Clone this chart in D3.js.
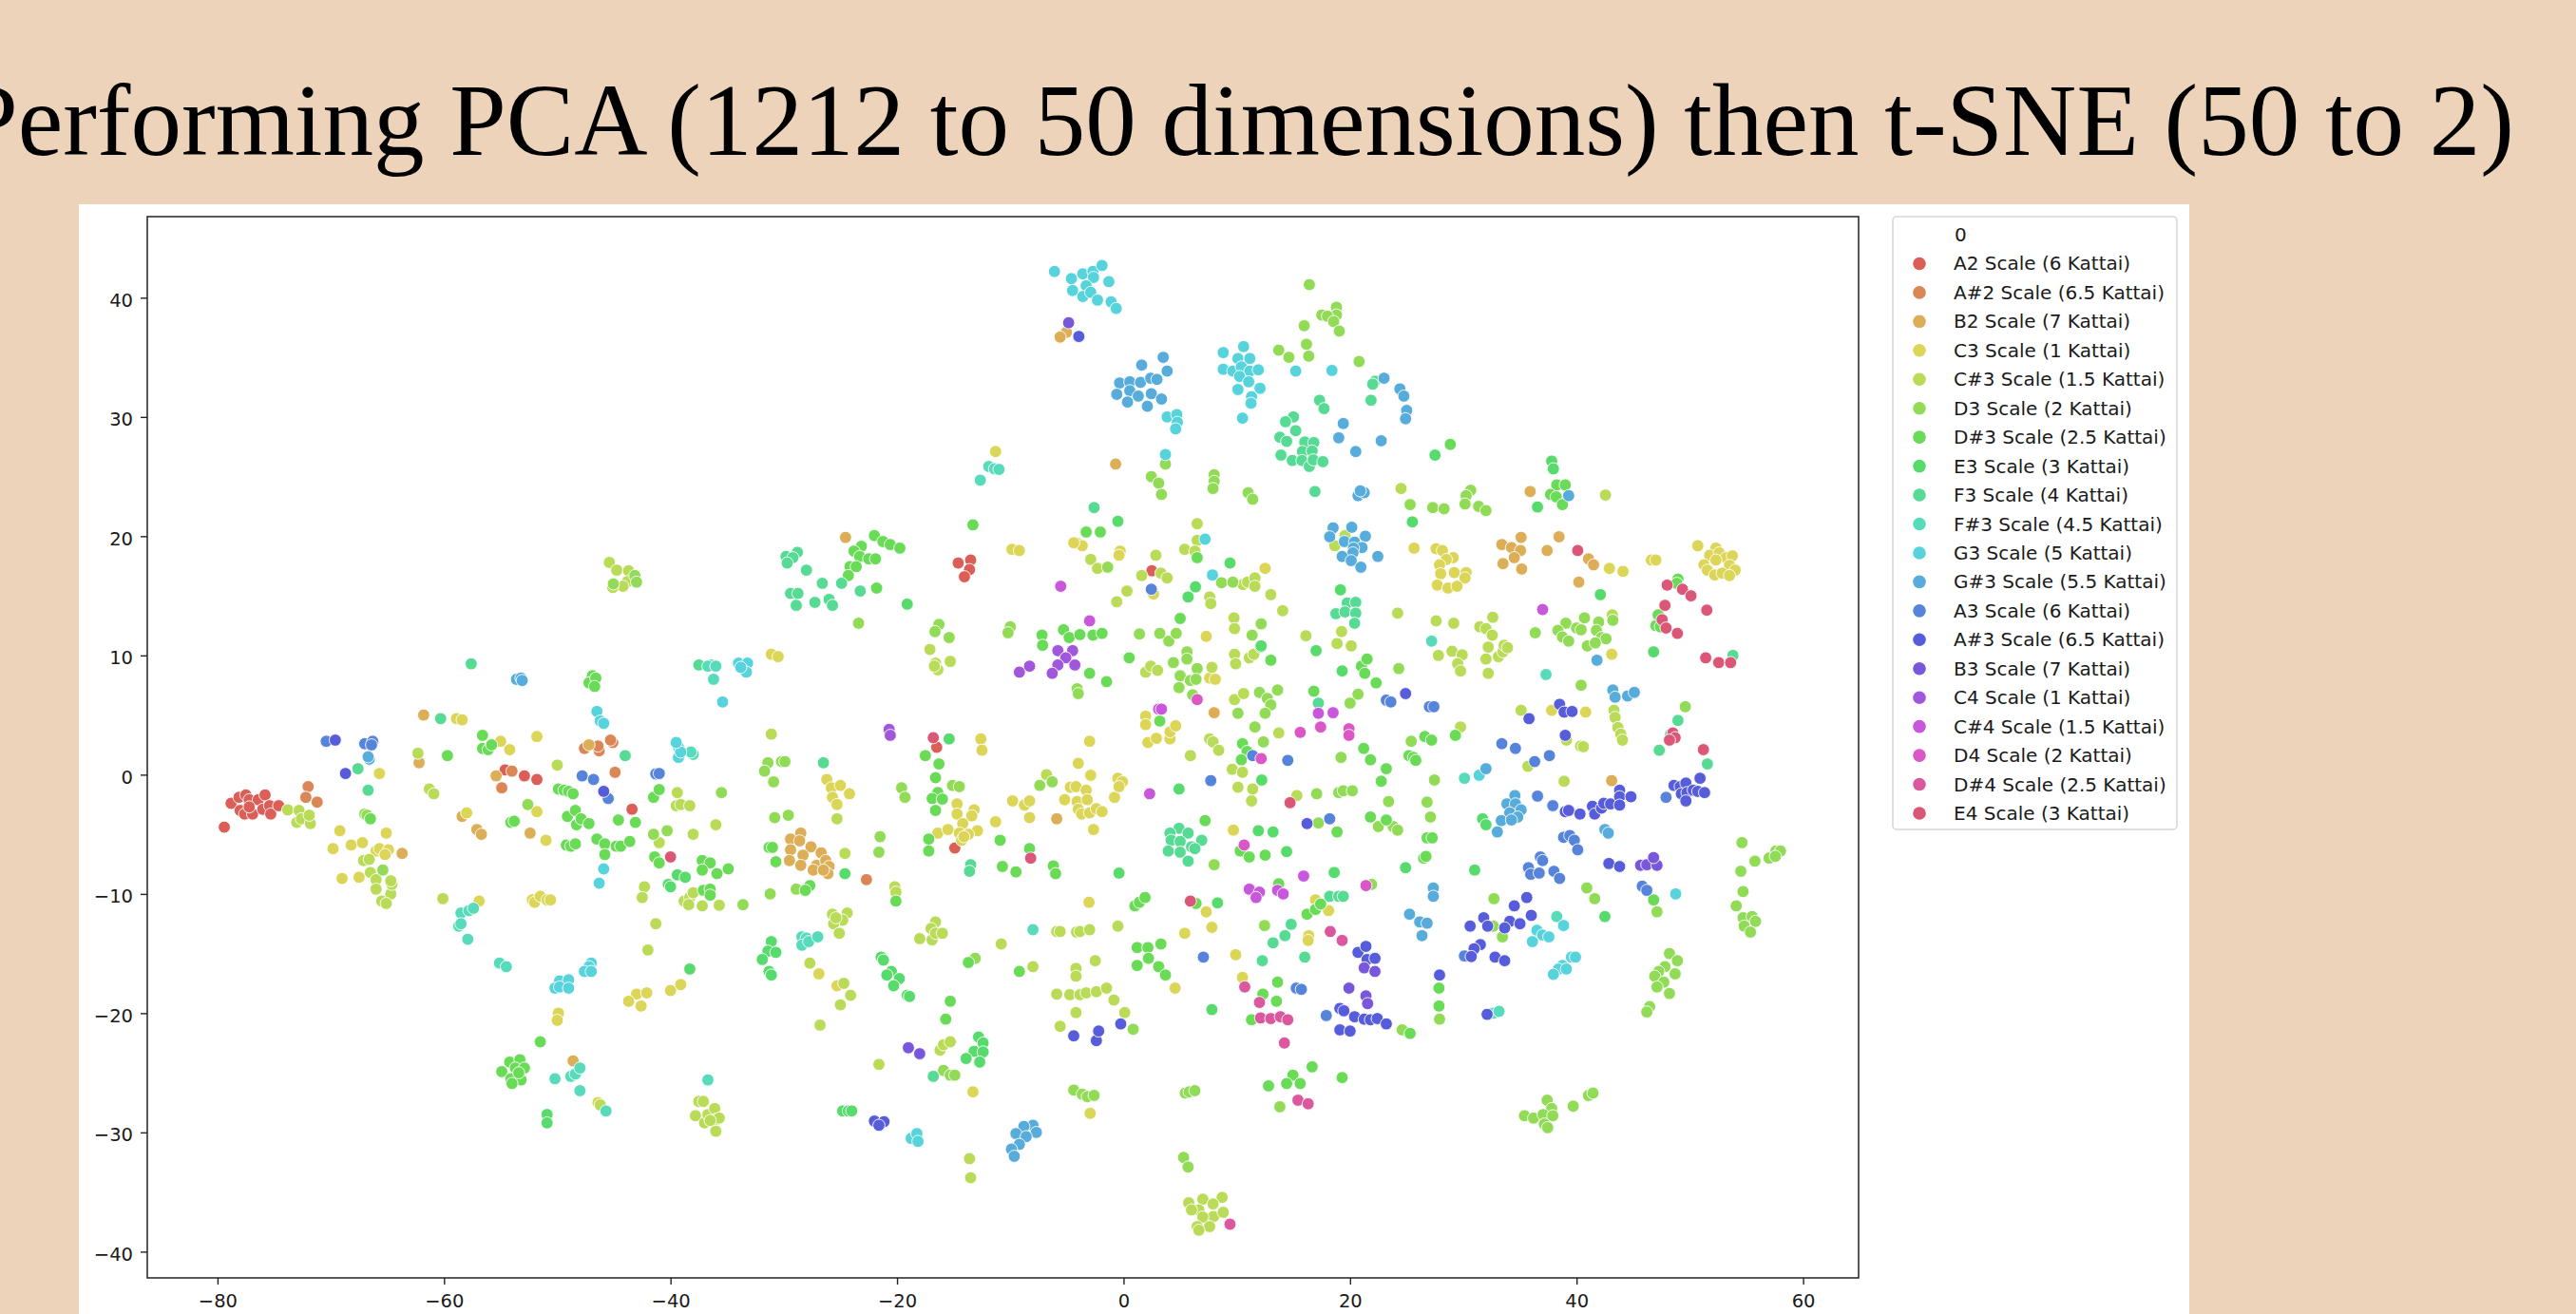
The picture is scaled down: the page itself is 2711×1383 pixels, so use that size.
<!DOCTYPE html>
<html>
<head>
<meta charset="utf-8">
<script src="https://cdn.jsdelivr.net/npm/d3@7"></script>
<style>
  html, body { margin: 0; padding: 0; background: #ecd3ba; overflow: hidden; }
  svg { display: block; }
  .tick text, .legend text { font-family: "DejaVu Sans", sans-serif; fill: #1a1a1a; }
</style>
</head>
<body>
<script>
const chartTitle = "Performing PCA (1212 to 50 dimensions) then t-SNE (50 to 2)";
const legendTitle = "0";
const scaleNames = [
  "A2 Scale (6 Kattai)", "A#2 Scale (6.5 Kattai)", "B2 Scale (7 Kattai)", "C3 Scale (1 Kattai)",
  "C#3 Scale (1.5 Kattai)", "D3 Scale (2 Kattai)", "D#3 Scale (2.5 Kattai)", "E3 Scale (3 Kattai)",
  "F3 Scale (4 Kattai)", "F#3 Scale (4.5 Kattai)", "G3 Scale (5 Kattai)", "G#3 Scale (5.5 Kattai)",
  "A3 Scale (6 Kattai)", "A#3 Scale (6.5 Kattai)", "B3 Scale (7 Kattai)", "C4 Scale (1 Kattai)",
  "C#4 Scale (1.5 Kattai)", "D4 Scale (2 Kattai)", "D#4 Scale (2.5 Kattai)", "E4 Scale (3 Kattai)",
];
const xTicks = [-80, -60, -40, -20, 0, 20, 40, 60];
const yTicks = [-40, -30, -20, -10, 0, 10, 20, 30, 40];

// t-SNE coordinates, one list per scale.
const a2 = [[-79.4,-4.4],[-78.8,-2.4],[-78.1,-1.9],[-77.5,-1.7],[-77.2,-2.1],[-76.4,-2.1],[-75.8,-1.7],[-78,-3],[-77.6,-3.3],[-76.9,-3.3],[-77.2,-2.7],[-76,-2.9],[-75.4,-2.6],[-75.3,-3.3],[-74.6,-2.6],[-54.6,0.4],[-52.9,-0.1],[-51.8,-0.4],[-43.4,-2.9],[-14.9,-6.15],[-16.5,2.3],[-13.5,18],[-14.6,17.75],[-13.6,17.2],[-14.05,16.6],[2.5,17.1]];
const aSharp2 = [[-72,-1],[-72.2,-1.9],[-71.2,-2.3],[-54.9,-1.1],[-47.6,2.2],[-46.3,2],[-46.4,2.4],[-45.1,2.7],[-45.3,2.9],[-44.9,0.2],[-54,0.3],[-22.7,-8.8]];
const b2 = [[-61.8,5],[-62.2,1],[-58.4,-3.5],[-57.1,-4.6],[-56.7,-5],[-52.4,-4.9],[-48.6,-24],[-55.4,-0.1],[-47.2,2.5],[-63.7,-6.6],[-28.5,-4.9],[-29.4,-5.4],[-28.6,-5.55],[-27.6,-6.05],[-26.7,-6.55],[-29.4,-6.3],[-28.3,-6.75],[-29.5,-7.2],[-28.5,-7.6],[-27.1,-7.6],[-26.3,-7.2],[-27.4,-8],[-26,-7.7],[-26.1,-8.3],[-26.5,-8],[-5.9,-3.7],[8,5.2],[-5.05,37.1],[-5.6,36.7],[-0.7,26.05],[-24.55,19.9],[35.9,23.75],[35.1,19.9],[33.4,19.3],[34.25,19.05],[35.05,18.8],[34.5,18.2],[33.5,17.7],[35.15,17.25],[38.45,19.95],[37.4,18.8],[41.05,18.1],[41.5,17.6],[40.2,16.15],[43.1,-0.5]];
const c3 = [[-69.2,-4.7],[-69.8,-6.2],[-68.2,-5.9],[-67.2,-5.7],[-65.1,-4.9],[-66,-6.4],[-65.7,-6.2],[-64.9,-6.3],[-65.2,-6.7],[-69,-8.7],[-67.5,-8.6],[-65.7,0.1],[-58.9,4.7],[-58.4,4.6],[-55,2.8],[-54.2,2.1],[-51.8,3.2],[-51.8,-3.1],[-51,-5.5],[-52.2,-10.5],[-52,-10.7],[-51.5,-10.2],[-50.9,-10.5],[-50.6,-10.5],[-49.9,-20],[-50,-20.6],[-43,-18.4],[-42.1,-18.3],[-43.7,-19],[-42.6,-19.4],[-40,-18.1],[-39.1,-17.6],[-46.4,-27.5],[-58,-3.2],[-56.9,-10.6],[-31.1,10.1],[-30.5,9.9],[-26.2,-0.4],[-25.8,-1.1],[-25,-0.9],[-24.2,-1.6],[-25.7,-1.9],[-25.3,-2.5],[-26.9,-16.7],[-25.3,-17.7],[-12.6,3],[-12.5,2.05],[-14.7,-2.45],[-14.7,-3.3],[-13.2,-2.95],[-13.4,-3.45],[-14.2,-4.1],[-12.9,-4.7],[-16.4,-4.9],[-15.5,-4.6],[-14.5,-4.9],[-13.7,-5],[-14.3,-5.5],[-14.1,-5.2],[-11.3,-3.95],[-9.8,-2.2],[-8.75,-2.55],[-8.3,-2.2],[-8.3,-3.6],[-3,2.8],[-4,0.95],[-2.9,-0.05],[-4.7,-1.05],[-4.2,-1],[-3.3,-1.3],[-5.2,-2.1],[-4.1,-2.25],[-3.2,-2.1],[-4,-2.9],[-3.7,-3.3],[-3,-3.2],[-2.4,-2.85],[-1.9,-3.1],[-2.65,-4.6],[-0.8,-1.9],[-0.5,-0.3],[-0.1,-0.6],[-0.4,-1],[7.6,8.1],[8.1,8],[1.95,4.9],[1.95,4.2],[2.15,2.7],[2.9,3.05],[4.1,3],[4.1,3.6],[4.6,4.1],[9.7,-4.65],[-3.05,-10.7],[7.3,-11.5],[7.8,-12.8],[5.4,-13.3],[16.95,-10.5],[18.1,-11.4],[16.35,-13.5],[16.3,-13.9],[9.9,-15.1],[10.5,-17],[4.55,-17.9],[-13.3,-26.6],[-2.95,-28.4],[37.8,5.4],[40.8,5.25],[43.1,10.1],[-11.3,27.1],[-9.85,18.9],[-9.2,18.8],[-4.1,19.4],[-3.65,19.2],[-4.4,19.45],[-0.3,18.75],[-0.4,18.4],[12.5,17.3],[2.65,15.15],[7.3,11.6],[25.65,19],[27.6,18.95],[28.15,18.8],[29.1,18.2],[28.5,18.05],[27.9,17.6],[29.2,16.95],[30.25,16.95],[28,16.85],[30.15,16.5],[27.7,15.9],[28.65,15.65],[29.45,15.8],[42.9,17.3],[44.1,17.05],[46.6,18],[47,18],[50.7,19.2],[52.3,19],[51.75,18.4],[52.6,18.6],[53.2,18.2],[53.75,18.35],[52.3,18],[51.25,17.6],[53.5,17.55],[54,17.15],[51.55,17.15],[52.2,16.75],[52.85,16.9],[53.5,16.7]];
const cSharp3 = [[-73.8,-2.95],[-72.8,-3],[-73,-4],[-72.6,-3.7],[-71.8,-4.1],[-71.9,-3.4],[-62.3,1.8],[-61.3,-1.2],[-60.9,-1.6],[-60.1,-10.4],[-50,0.8],[-42,-14.7],[-41.3,-12.5],[-42.3,-9.4],[-42.5,-10.3],[-39.4,-1.5],[-39.5,-2.6],[-39.1,-2.5],[-38.3,-2.6],[-38,-5],[-36,-4.2],[-38.8,-10.6],[-38.3,-10.3],[-38.4,-10.9],[-38,-9.9],[-37.2,-11],[-35.7,-10.95],[-41,-5.7],[-67.1,-7.2],[-66.6,-7.1],[-66.5,-8.2],[-66,-8.8],[-66,-9.6],[-64.7,-10],[-64.6,-9.2],[-64.7,-8.9],[-65.5,-10.6],[-65.1,-10.8],[-46.2,-27.7],[-37.5,-27.4],[-37.1,-27.4],[-37.8,-28.6],[-37,-29.2],[-36.7,-28.5],[-36.1,-28],[-36,-28.9],[-36,-29.9],[-35.7,-28.8],[-36.5,-29],[-17.1,10.5],[-16.6,9.35],[-16.4,8.8],[-15.3,9.5],[-16.7,9.1],[-31.1,3.4],[-25.3,-3.7],[-24.6,-6.6],[-20.2,-9.4],[-20.1,-9.85],[-25.7,-11.7],[-24.4,-11.6],[-24.8,-12.2],[-25.6,-12.5],[-25.1,-13.3],[-25.4,-12],[-27.7,-15.8],[-24.7,-17.5],[-24.1,-18.5],[-25,-19.3],[-26.8,-21],[-6.8,0],[1.95,8.6],[2.4,9.1],[3,8.75],[7.8,9],[9.8,10.1],[9.9,9.3],[11.1,9.8],[11.5,10.1],[9.8,6.3],[10.6,6.8],[13.7,3.5],[7.6,3],[7.9,2.75],[8.4,2.05],[5.9,1.6],[9.6,0.45],[10.5,0.2],[10.1,-1.05],[11.4,-1.2],[11.3,-2.2],[15.3,-1.75],[-5.9,-13.15],[-5.6,-13.15],[-4.15,-13.2],[-3.85,-13.15],[-3,-13],[-0.5,-12.7],[-8,-16.1],[-10.8,-14.2],[-18,-13.75],[-16.9,-13.85],[-16.6,-12.35],[-17,-12.9],[-16.6,-13.3],[-16,-13.3],[-2.5,-15.6],[-4.2,-16.25],[-4.2,-16.9],[-5.9,-18.4],[-4.75,-18.45],[-3.85,-18.45],[-3.3,-18.3],[-2.4,-18.2],[-1.5,-17.9],[-0.85,-18.9],[-4.2,-19.95],[0.1,-19.95],[-5.6,-21.1],[-16.2,-23.1],[-15.9,-22.65],[-15.3,-22.4],[-21.6,-24.3],[-13.6,-32.2],[-13.5,-33.8],[5.75,-35.9],[7,-35.6],[8.7,-35.45],[7.9,-36],[6.65,-36.5],[7.95,-37.05],[8.8,-36.7],[6,-36.5],[7,-37.1],[6.5,-37.9],[7.6,-37.9],[6.65,-38.2],[27.8,10],[29,10.35],[29.9,10.05],[29.5,9.3],[29.75,8.7],[32,9.7],[32.2,8.5],[33.1,9.9],[33.5,10.3],[35.1,5.4],[43.3,5.4],[43.4,4.8],[43.65,3.95],[43.9,3.4],[44.05,2.9],[39.1,2.9],[40.35,2.4],[40.6,2.35],[29.75,4],[35.7,0.7],[38.9,-0.55],[-45.4,17.8],[-44.75,17.15],[-43.7,17.1],[-43.8,16.2],[-44.2,15.8],[-45.1,15.7],[6.5,21.05],[6.5,19.65],[5.4,18.9],[6.3,18.75],[2.85,18.4],[1.6,16.7],[3.3,16.9],[3.85,16.5],[10.55,15.95],[10.95,16.15],[11.6,16.5],[11.6,15.8],[0.3,15.4],[-0.6,14.5],[7.6,14.9],[7.7,14.35],[13,15.1],[14.05,13.75],[9.75,13.15],[9.8,12.25],[-2.9,18.05],[-2.3,17.3],[19.55,20.05],[18.65,19.2],[16.1,11.65],[19.25,12],[18.85,11],[20.1,10.8],[24.5,24],[42.55,23.45],[43.15,13.4],[24.2,13.55],[27.6,12.9],[29.15,12.7],[32.6,13.2],[31.45,12.4],[32,12.25],[32.55,11.7],[32.2,10.7],[33.6,10.85],[33.9,10.65]];
const d3Scale = [[-67,-3.3],[-66.8,-3.4],[-65.4,-8],[-52.6,-2.5],[-41.5,-5],[-40.3,-4.7],[-43.15,16.7],[-45.05,16],[-43,16.15],[-35.5,-1.5],[-31.4,1],[-31.7,0.3],[-30.2,1.1],[-29.9,1.1],[-30.9,-0.6],[-30.8,-3.6],[-29.6,-3.4],[-21.5,-5.2],[-21.6,-6.5],[-31.2,-10],[-33.6,-10.9],[-28.9,-9.6],[-15.1,-0.9],[-14.5,-1],[-19.6,-1.1],[-19.3,-1.9],[-7.4,-0.9],[-6.3,-0.6],[-13.1,-15.4],[-4.1,7.2],[-4,6.8],[4.4,9.4],[5.6,10.3],[5.6,9.7],[5,8.3],[4.9,7.3],[6.5,8.9],[5.9,7.9],[6.4,8],[6.1,6.7],[12,6.9],[13.6,7.1],[12.7,6.4],[13,5.85],[10.1,5.15],[12.5,5.15],[11.6,4],[12.35,2.75],[19.2,1.45],[20.7,6.75],[20,6],[24.3,8.9],[17.05,-1.6],[19,-1.5],[19.4,-1.35],[20.2,-1.35],[17.2,-4.05],[22.5,-4.35],[8,-7.55],[12.45,-12.65],[21.9,-9.2],[0.85,-21.35],[-15.9,-24.8],[-15.3,-25.2],[-14.9,-25.2],[-4.4,-26.45],[-3.65,-26.8],[-3.2,-27],[-2.6,-26.9],[5.45,-26.7],[5.8,-26.6],[6.3,-26.5],[13.8,-27.85],[5.3,-32.1],[5.7,-32.9],[27.45,-0.45],[25.4,2.8],[23.4,-2.25],[26.8,-2.3],[27.1,-3.55],[23.8,-4.35],[24.2,-4.65],[40.4,7.5],[49.6,5.7],[32.7,-10.4],[32.65,-12.7],[33.45,-13.6],[40.9,-9.5],[41.6,-10.4],[47.1,-11.5],[27.9,-20.5],[24.6,-21.4],[48.2,-15],[48.9,-15.6],[47.8,-16.1],[48.7,-16.7],[47.25,-16.5],[46.9,-16.9],[47.7,-17.4],[47.1,-17.8],[48.2,-18.35],[46.45,-19.45],[46.2,-19.9],[54.6,-5.7],[55.75,-7.25],[54.5,-8.1],[57.6,-6.4],[58,-6.4],[57,-7],[57.55,-6.85],[54.7,-9.8],[54.1,-11],[54.7,-12],[55.5,-11.9],[55.8,-12.3],[54.8,-12.7],[55.35,-13.2],[35.4,-28.6],[36.2,-28.8],[37.4,-27.3],[37.8,-28],[37.05,-28.5],[37.9,-28.6],[37.15,-29.3],[37.45,-29.6],[39.7,-27.8],[41.05,-26.9],[41.45,-26.7],[3.7,26.05],[16.4,41.1],[18.8,39.2],[18.8,38.55],[17.5,38.55],[18,38.45],[18.55,38],[19.05,37.2],[15.95,37.65],[16.15,36.1],[13.7,35.6],[14.6,35],[16.35,35.1],[20.8,34.65],[8,25.15],[8,24.6],[7.9,24],[2.45,25],[3.1,24.45],[3.35,23.5],[11,23.65],[11.4,23.1],[-23.4,12.7],[-1.4,17.4],[8.65,16.1],[9.65,16.15],[-10,12.4],[-10.2,11.9],[-16.3,12.6],[-16.65,12],[-15.4,11.5],[1.4,11.8],[3.2,11.85],[4,11.2],[4.65,11.85],[11.35,11.7],[12.15,12.65],[25.3,22.65],[27.3,22.4],[28.3,22.3],[30.65,23.85],[30.25,23.4],[30.15,22.7],[31.35,22.5],[32,22.15],[36.35,11.9],[39.05,12.7],[40.7,13.15],[41.95,12.8],[43.2,12.95],[38.35,12.1],[40,12.3],[40.4,12.15],[41.75,12.1],[38.75,11.55],[39.3,11.2],[40.95,10.8],[42.2,11.5],[42.6,11.4],[41.65,11.05]];
const dSharp3 = [[-56.6,3.3],[-56.6,2.2],[-56.1,2.1],[-55.8,2.5],[-59.7,1.6],[-54.1,-4],[-53.8,-3.9],[-49.9,-1.2],[-49.4,-1.3],[-49,-1.4],[-48.6,-1.6],[-49.1,-3.5],[-48.4,-3],[-48.3,-4.2],[-47.9,-3.7],[-47.2,-4.1],[-49.2,-5.9],[-48.8,-6],[-48.4,-5.8],[-46.5,-5.4],[-45.8,-5.8],[-45.8,-6.7],[-44.8,-6],[-44.4,-6],[-43.6,-5.6],[-44.6,-3.8],[-43.1,-4],[-41.4,-6.9],[-41,-7.4],[-37.2,-7.2],[-36.5,-7.4],[-37.2,-8],[-35.9,-8.3],[-37.1,-9.7],[-36.5,-9.6],[-36.5,-10.1],[-51.5,-22.4],[-54.9,-24.9],[-54.2,-24.1],[-53.3,-23.9],[-53.7,-24.6],[-52.9,-24.6],[-54.1,-25.5],[-53.2,-25.6],[-54,-25.9],[-53.4,-25],[-66.5,-3.7],[-41.5,-1.9],[-41,-1.25],[-46.9,8.3],[-47.2,7.7],[-46.6,8.1],[-46.7,7.4],[-31.3,-6.1],[-31,-6.1],[-30.7,-7.3],[-34.9,-7.9],[-27.7,-9.3],[-28.1,-9.7],[-17.5,1.6],[-16.3,0.9],[-16.6,-0.25],[-16.4,-1.5],[-16.9,-2],[-16,-2.05],[-16.6,-3],[-17.2,-5.4],[-17.2,-6.4],[-10.9,-5.5],[-10.7,-7.7],[-9.5,-8.15],[-8.3,-6.2],[-6.2,-7.65],[-6,-8.3],[-13.7,-15.75],[-9.2,-16.5],[-15.3,-19],[-15.7,-20.5],[0.5,9.8],[-1.5,7.8],[-3,8.5],[3.2,4.5],[12.1,10.7],[13,9.6],[21,9.1],[21.5,9.7],[21.3,8.5],[22.3,7.7],[16.8,7],[10.5,2.6],[10.9,1.95],[10.4,1.25],[21.2,2.2],[21.8,1.25],[23.2,0.5],[22.75,-0.55],[18.85,-4.8],[21.8,-3.55],[23.2,-3.8],[7.2,-3.85],[10.3,-6.4],[11.1,-6.9],[12.5,-6.75],[13.7,-9.15],[6.4,-10.8],[1,-11],[1.4,-10.7],[1.9,-10.3],[16.2,-11.7],[16.95,-11.3],[17.4,-10.85],[1.2,-14.5],[2.15,-14.5],[3.3,-14.2],[2.2,-15.4],[1.2,-16],[3.1,-16.1],[3.7,-16.8],[13.6,-17.4],[12.3,-18.4],[13.5,-19],[11.3,-20.55],[14.95,-25.2],[16.65,-24.5],[14.4,-25.9],[15.6,-25.9],[12.8,-26.1],[19.3,-25.4],[29.3,3.3],[26.6,3.2],[27.2,2.9],[25.2,1.6],[25.6,1.45],[25.8,1.2],[26.8,-5.3],[27.25,-5.3],[26.5,-7],[26.7,-6.85],[46.8,-10.5],[27.85,-17.9],[27.85,-19.4],[25.3,-21.7],[-20.1,-10.6],[-5.3,12.15],[-4.8,11.5],[-3.85,11.75],[-2.7,11.7],[-1.9,11.85],[-7.2,11.7],[-7.15,10.85],[5,13.1],[28.85,27.7],[38.25,24.3],[39,24.3],[37.7,23.5],[38.2,23.3],[38.75,22.65],[-22,20.05],[-21.25,19.55],[-20.6,19.3],[-19.75,19],[-23.15,19.15],[-23.8,18.75],[-23.3,18.3],[-22.5,18.1],[-21.9,18.1],[-24.15,17.45],[-23.6,17.45],[-24.3,16.7],[-21.8,15.65],[-3.3,20.35],[-2.05,20.35],[-13.3,20.95],[6.5,18.2],[47,12.5],[47.4,12.4],[47.2,13.4],[48.95,16.4],[48.85,16.05]];
const e3 = [[-15.4,3],[-39.4,-8.4],[-38.7,-8.6],[-40.2,-9.2],[-40,-9.4],[-38.3,-16.3],[-50.9,-28.5],[-50.9,-29.2],[-24.6,-8.3],[-21.4,-15.3],[-21.2,-15.55],[-20.5,-16.5],[-20.9,-16.8],[-19.8,-17.1],[-20.3,-17.7],[-19.1,-18.5],[-18.9,-18.6],[-31.1,-14],[-31.4,-14.8],[-30.7,-14.9],[-31.9,-15.5],[-31.3,-16.5],[-31.1,-16.8],[-12.8,-22],[-13.2,-23.2],[-12.4,-22.5],[-12.4,-23.25],[-13.9,-23.8],[-12.7,-24.1],[-24.8,-28.2],[-24.3,-28.2],[-24,-28.2],[4.9,-1.2],[12.2,-0.45],[11.9,-4.7],[13.2,-4.8],[14.4,-6.45],[18.6,-8.2],[8.3,-10.75],[7.8,-19.7],[-0.4,-8.25],[19.3,8.7],[17,10.4],[31,-8],[24.9,-7.8],[42.5,-11.9],[31.7,-3.7],[32,-4.2],[46.8,10.3],[-19.1,14.3],[6.35,15.75],[5.7,14.9],[9.4,17.75],[12.15,10.8],[19.15,15.5],[25.5,21.2],[27.5,26.8],[37.8,26.3],[37.95,25.65],[36.55,22.45],[42.1,15.1],[-0.5,21.25]];
const f3 = [[-57.6,9.3],[-60.3,4.7],[-67.6,0.5],[-66.7,-1.3],[-44,1.6],[-37.5,9.2],[-26.5,1],[-13.5,-7.55],[-13.6,-8.1],[4.9,-4.5],[4.1,-4.9],[5.7,-4.9],[4.2,-5.5],[5,-5.6],[6.9,-5.5],[6,-6.05],[6.3,-6.2],[3.95,-6.4],[5,-6.5],[5.7,-7.25],[17.2,6],[18.2,-10.2],[19,-10.2],[19.4,-10.2],[14.8,-12.55],[14.25,-13.5],[13.2,-14.1],[12.25,-15.6],[16,-15.3],[-16.8,-25.3],[48.95,4.55],[48.3,3.4],[47.3,2.05],[51.55,0.9],[53.8,10],[22.2,33],[22,32.75],[21.85,31.4],[17.3,31.4],[17.7,30.7],[15,30],[14.3,29.6],[15.2,28.85],[13.8,28.3],[14.4,27.95],[13.9,26.8],[14.9,26.35],[16,27.9],[16.8,27.85],[15.8,27.1],[16.65,27.15],[15.75,26.35],[16.4,25.85],[16.75,26.4],[17.6,26.25],[16.9,23.75],[-2.6,22.4],[-28.8,18.65],[-29.8,18.3],[-29.2,18.2],[-29.7,17.75],[-28,17.15],[-26.6,16.05],[-24.9,16.05],[-29.4,15.2],[-28.75,15.2],[-28.9,14.2],[-27.25,14.45],[-26,14.7],[-25.7,14.2],[-23.25,15.4],[19.75,14.4],[20.5,14.45],[18.75,13.5],[19.55,13.65],[20.5,13.55],[20.4,12.7]];
const fSharp3 = [[-58.5,-11.6],[-57.8,-11.4],[-57.4,-11.2],[-58.7,-12.7],[-58.5,-12.5],[-57.9,-13.8],[-55.1,-15.8],[-54.5,-16.1],[-50.2,-25.5],[-48.8,-25.3],[-48.4,-25.1],[-48,-24.6],[-48,-26.5],[-45.7,-28.2],[-36.7,-25.6],[-38,1.7],[-38.2,1.9],[-36.4,9.2],[-36.7,9.1],[-36,9.1],[-36.2,8],[-28.4,-13.6],[-28,-13.7],[-28.4,-14.3],[-27.8,-14],[-27,-13.6],[-8,-13],[37.3,8.4],[30.1,-0.3],[38.25,-11.9],[32.65,-20],[33.15,-19.85],[27.2,11.2],[-11.9,25.85],[-11.4,25.65],[-11,25.6],[-12.65,24.7]];
const g3 = [[-49.8,-17.3],[-49,-17.2],[-50.2,-17.9],[-49.8,-17.8],[-49,-17.9],[-47,-15.8],[-47.2,-16.1],[-47.6,-16.5],[-47,-16.5],[-45.9,-7.9],[-46.3,-9.1],[-46.5,5.3],[-46.2,4.5],[-45.9,4.3],[-39.3,1.45],[-39.3,2.3],[-39.1,1.9],[-39.5,2.7],[-35.4,6.1],[-34,9.35],[-33.2,9.35],[-33.3,8.6],[-33.8,9],[-18.75,-30.5],[-18.25,-30.1],[-18.15,-30.75],[31.4,-0.05],[38.85,-12.65],[36.5,-13.05],[37,-13.45],[37.55,-13.6],[36.1,-14],[39.55,-15.3],[39.9,-15.3],[38.75,-16],[38.4,-16.3],[39.1,-16.3],[37.95,-16.75],[48.75,-10],[-6.1,42.2],[-4.6,41.6],[-3.6,42],[-2.7,42.2],[-1.9,42.7],[-2.65,41.7],[-1.3,41.35],[-4.5,40.6],[-3.3,41],[-3.6,40.1],[-2.9,40.45],[-2.3,39.8],[-1.1,39.65],[-0.65,39.1],[3.85,30],[4.7,30.2],[4.75,29.55],[4.6,29],[10.5,29.9],[3.7,26.85],[15.2,33.85],[18.4,33.9],[8.8,35.4],[10.6,35.9],[10.1,34.9],[11.15,34.9],[8.8,34],[9.65,33.85],[10.4,34.2],[11.15,33.85],[11.9,33.95],[10.25,33.4],[11.05,32.95],[10.1,32.3],[12.05,32.4],[11.3,31.7],[11.25,31.15],[7.2,19.75],[7.85,16.75]];
const gSharp3 = [[-66.6,1.3],[-66.7,1.5],[-53.6,8],[-53.2,8.1],[-53.1,7.9],[-8,-29.4],[-8.8,-29.5],[-7.7,-30],[-9.5,-30.1],[-8.6,-30.35],[-9.2,-31],[-9.9,-31.4],[-9.65,-32],[41.8,9.6],[43.2,7.1],[43.4,6.5],[44.5,6.6],[45.1,6.9],[32,0.5],[34.55,-1.75],[33.85,-2.45],[34.6,-2.45],[35.1,-2.95],[34.1,-3.2],[34.8,-3.55],[33.35,-3.85],[34.25,-3.8],[33,-4.8],[42.5,-4.6],[42.8,-4.9],[27.35,-9.5],[27.35,-10.2],[25.25,-11.7],[26.15,-12.35],[26.8,-12.45],[26.35,-13.5],[3.5,35],[1.6,34.35],[3.85,33.85],[-0.35,32.85],[0.55,32.95],[1.5,32.9],[2.4,33.25],[2.95,33.15],[-0.6,31.9],[0.55,32.2],[1.3,31.75],[2.45,31.95],[3.35,31.5],[0.35,31.25],[2.1,30.9],[23,33.25],[19.4,29.45],[19,28.25],[20.5,27.1],[22.75,28],[20.7,23.4],[21.25,23.65],[20.9,23.8],[24.4,32.35],[24.75,31.75],[25,30.55],[24.9,29.85],[39.3,23.4],[18.5,20.7],[20.15,20.75],[21.35,20],[18.2,19.95],[19.5,19.55],[20.4,19.5],[21.05,19.05],[20.3,19],[20.25,18.6],[19.3,18.3],[20.1,17.95],[20.95,17.4],[22.45,18.3]];
const a3 = [[-70.4,2.8],[-67,2.6],[-66.3,2.8],[-66.4,2.5],[-47.8,-0.1],[-46.8,-0.4],[-41.3,0.07],[-41,0.1],[-45.5,-2],[11.4,1.6],[14.5,1.2],[7.7,-0.5],[18.2,-3.7],[7.05,-15.3],[15.25,-17.9],[15.7,-18],[23.2,6.25],[23.6,6.1],[27,5.7],[27.4,5.7],[33.4,2.6],[34.6,2.2],[37.6,1.6],[36.3,1.1],[36.55,-1.8],[37.9,-2.6],[47.9,-1.9],[38.85,-5.25],[39.4,-5.1],[39.8,-5.5],[40.1,-6.3],[36.8,-6.9],[37,-7.2],[35.75,-7.8],[35.95,-8.35],[36.7,-8.25],[38,-8.1],[38.5,-8.7],[45.8,-9.35],[46.2,-9.7],[30.1,-15.2],[17.9,-20.2],[2.45,15.55]];
const aSharp3 = [[-69.6,2.9],[-68.7,0.1],[-45.9,-1.4],[-4.4,-21.9],[-0.25,-20.9],[-2.4,-22.3],[-2.2,-21.5],[-22,-29.05],[-21.15,-29.1],[-21.6,-29.4],[16.2,-4.1],[20.7,-14.9],[21.4,-14.4],[21.5,-15.5],[22.2,-15.4],[19.1,-19.6],[19.45,-19.8],[20.4,-20.3],[21.25,-20.5],[21.8,-20.55],[22.4,-20.45],[23.2,-20.9],[19.1,-21.4],[20,-21.5],[24.9,6.8],[35.8,4.7],[38.5,5.9],[38.9,5.25],[39.6,5.3],[39,3.3],[39,-3.1],[39.3,-3],[40.3,-3.3],[41.4,-2.65],[41.6,-3.3],[42.2,-2.8],[42.4,-2.4],[43,-2.45],[43.8,-1.3],[43.8,-1.85],[43.8,-2.55],[44.8,-1.85],[48.6,-0.9],[49.15,-1],[49.65,-0.7],[49.25,-1.6],[49.75,-1.5],[49.65,-2.2],[50.3,-1.3],[50.7,-1.4],[51.3,-1.5],[50.9,-0.3],[42.85,-7.45],[43.8,-7.7],[34.5,-11],[35.6,-10.3],[36,-11.8],[31.8,-12],[30.6,-12.7],[32.15,-12.7],[34.1,-12.3],[33.65,-12.85],[35,-12.5],[31.5,-14.25],[30.95,-14.6],[30.7,-15.25],[32.8,-15.3],[33.65,-15.6],[27.9,-16.8],[32.1,-20.1],[-3.95,36.75]];
const b3 = [[-19,-22.9],[-18,-23.4],[21.25,-16.2],[22.2,-16.5],[19.9,-17.9],[21.4,-18.55],[21.55,-19.2],[45.65,-7.6],[46.2,-7.55],[47.1,-7.6],[46.8,-6.95],[-4.85,37.9]];
const c4 = [[-20.7,3.8],[-20.6,3.3],[-9.2,8.6],[-8.3,9.1],[-5.8,10.4],[-4.5,10.4],[-5.1,9.8],[-5.8,9.2],[-4.3,9.2],[-6.3,8.5]];
const cSharp4 = [[3.1,5.5],[3.35,5.5],[2.3,-1.6],[17.2,5.15],[18.5,5.2],[15.9,-8.5],[11.1,-9.6],[12,-9.85],[11.7,-10.3],[13.6,-9.7],[14.1,-10],[-5.55,15.8],[-3,12.9],[37,13.85]];
const d4 = [[6.5,6.3],[17.4,4],[19.9,3.85],[19.9,3.3],[15.6,3.55],[12.15,1.35],[10.65,-5.9],[21.4,-9.3]];
const dSharp4 = [[18.25,-13.15],[19.3,-13.9],[10.7,-17.8],[12,-19.1],[12.1,-20.4],[13,-20.45],[13.85,-20.3],[14.5,-20.55],[14.2,-22.5],[15.4,-27.3],[16.3,-27.6],[9.4,-37.7]];
const e4 = [[-40,-6.9],[-16.8,3.1],[-8.2,-7],[14.7,-2.35],[5.9,-10.6],[51.4,9.8],[52.55,9.4],[53.6,9.4],[48.5,3.5],[48.7,3.1],[48.2,2.9],[51.2,2.1],[40.1,18.8],[48,15.9],[49.35,15.55],[50.1,15],[47.8,14.2],[51.5,13.8],[47.55,13],[47.9,12.3],[48.9,11.85]];

const seriesPoints = [a2, aSharp2, b2, c3, cSharp3, d3Scale, dSharp3, e3, f3, fSharp3, g3, gSharp3, a3, aSharp3, b3, c4, cSharp4, d4, dSharp4, e4];

const width = 2711;
const height = 1383;
const panel = { left: 83, top: 215, right: 2304 };
const plot = { left: 155, right: 1956, top: 228, bottom: 1345 };

// Same hues as seaborn's hls palette.
const color = d3
  .scaleOrdinal()
  .domain(scaleNames)
  .range(scaleNames.map((d, i) => d3.hsl((0.01 + i / 20) * 360, 0.65, 0.6).formatHex()));

const x = d3.scaleLinear().domain([-86.2, 64.9]).range([plot.left, plot.right]);
const y = d3.scaleLinear().domain([-42.2, 46.8]).range([plot.bottom, plot.top]);

const svg = d3
  .select("body")
  .append("svg")
  .attr("width", width)
  .attr("height", height);

// Title runs off the left edge of the slide, so anchor it on the right.
svg
  .append("text")
  .attr("x", 2646)
  .attr("y", 163)
  .attr("text-anchor", "end")
  .attr("font-family", "Liberation Serif")
  .attr("font-size", 107)
  .attr("fill", "#000")
  .text(chartTitle);

svg
  .append("rect")
  .attr("x", panel.left)
  .attr("y", panel.top)
  .attr("width", panel.right - panel.left)
  .attr("height", height - panel.top)
  .attr("fill", "#fff");

const formatTick = (d) => String(d).replace("-", "\u2212");

const xAxis = svg
  .append("g")
  .attr("transform", `translate(0,${plot.bottom})`)
  .call(d3.axisBottom(x).tickValues(xTicks).tickFormat(formatTick).tickSize(7).tickPadding(10));

const yAxis = svg
  .append("g")
  .attr("transform", `translate(${plot.left},0)`)
  .call(d3.axisLeft(y).tickValues(yTicks).tickFormat(formatTick).tickSize(7).tickPadding(8));

[xAxis, yAxis].forEach((axis) => {
  axis.select(".domain").remove();
  axis.selectAll(".tick line").attr("stroke", "#222").attr("stroke-width", 1.4);
  axis.selectAll(".tick text").attr("font-size", 19.5);
});
yAxis.selectAll(".tick text").attr("dy", "0.45em");

// Points, one group per scale.
const groups = svg
  .append("g")
  .selectAll("g")
  .data(seriesPoints)
  .join("g")
  .attr("fill", (d, i) => color(scaleNames[i]));

groups
  .selectAll("circle")
  .data((d) => d)
  .join("circle")
  .attr("cx", (d) => x(d[0]))
  .attr("cy", (d) => y(d[1]))
  .attr("r", 6.4)
  .attr("stroke", "#fff")
  .attr("stroke-width", 0.9);

svg
  .append("rect")
  .attr("x", plot.left)
  .attr("y", plot.top)
  .attr("width", plot.right - plot.left)
  .attr("height", plot.bottom - plot.top)
  .attr("fill", "none")
  .attr("stroke", "#222")
  .attr("stroke-width", 1.5);

// Legend.
const legendRow = d3
  .scaleLinear()
  .domain([0, scaleNames.length])
  .range([247, 856]);

const legend = svg.append("g").attr("class", "legend");

legend
  .append("rect")
  .attr("x", 1992)
  .attr("y", 228)
  .attr("width", 299)
  .attr("height", 645)
  .attr("rx", 4)
  .attr("fill", "#fff")
  .attr("stroke", "#d6d6d6")
  .attr("stroke-width", 1.5);

legend
  .append("text")
  .attr("x", 2057)
  .attr("y", legendRow(0))
  .attr("dy", "0.35em")
  .attr("font-size", 20)
  .text(legendTitle);

const legendItem = legend
  .selectAll(".legend-item")
  .data(scaleNames)
  .join("g")
  .attr("class", "legend-item")
  .attr("transform", (d, i) => `translate(0,${legendRow(i + 1)})`);

legendItem
  .append("circle")
  .attr("cx", 2020)
  .attr("r", 6.8)
  .attr("fill", (d) => color(d));

legendItem
  .append("text")
  .attr("x", 2056)
  .attr("dy", "0.35em")
  .attr("font-size", 20)
  .text((d) => d);
</script>
</body>
</html>
